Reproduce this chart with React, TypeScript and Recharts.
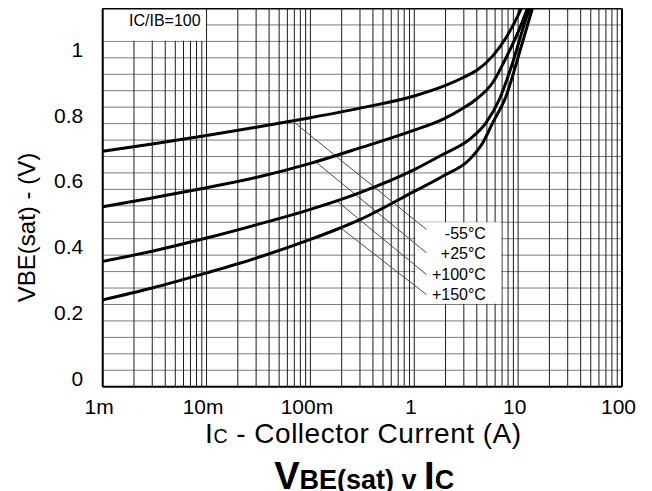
import React from 'react';
import { LineChart, Line, XAxis, YAxis, ReferenceLine, ReferenceArea } from 'recharts';

// ---- axis ticks ----
const xTicks = [0.001, 0.01, 0.1, 1, 10, 100];
const xTickLabels = ['1m', '10m', '100m', '1', '10', '100'];
const yTicks = [0, 0.2, 0.4, 0.6, 0.8, 1];
const yTickLabels = ['0', '0.2', '0.4', '0.6', '0.8', '1'];

// ---- grid values ----
const gridDecades = [0.001, 0.01, 0.1, 1, 10];
const gridMultipliers = [1, 2, 3, 4, 5, 6, 7, 8, 9];
const gridY = [0.05, 0.1, 0.15, 0.2, 0.25, 0.3, 0.35, 0.4, 0.45, 0.5, 0.55, 0.6, 0.65, 0.7, 0.75, 0.8, 0.85, 0.9, 0.95, 1.0, 1.05, 1.1];

// ---- series: collector current (A) and VBE(sat) (V) ----
const icM55 = [0.001, 0.003, 0.01, 0.03, 0.1, 0.3, 1, 2, 3, 4, 5.7, 7.67, 10.3, 11.2];
const vbeM55 = [0.716, 0.738, 0.764, 0.789, 0.818, 0.847, 0.884, 0.916, 0.941, 0.962, 1.006, 1.062, 1.138, 1.165];

const icP25 = [0.001, 0.003, 0.01, 0.03, 0.1, 0.3, 1, 1.88, 3, 3.95, 5.7, 7.67, 10.3, 12.6];
const vbeP25 = [0.547, 0.574, 0.605, 0.636, 0.679, 0.726, 0.78, 0.813, 0.848, 0.874, 0.925, 1.001, 1.088, 1.16];

const icP100 = [0.001, 0.003, 0.01, 0.03, 0.1, 0.3, 1, 1.88, 3.4, 4.92, 6.6, 8.87, 11.9, 13.3];
const vbeP100 = [0.381, 0.412, 0.452, 0.492, 0.539, 0.59, 0.66, 0.706, 0.752, 0.803, 0.874, 0.986, 1.118, 1.16];

const icP150 = [0.001, 0.003, 0.01, 0.03, 0.1, 0.178, 0.3, 1, 1.88, 3.4, 4.57, 5.7, 7.67, 10.3, 14];
const vbeP150 = [0.264, 0.3, 0.346, 0.391, 0.448, 0.478, 0.508, 0.594, 0.64, 0.691, 0.742, 0.803, 0.884, 1.016, 1.16];

// ---- legend leaders (start on curve -> end at label) ----
const leaderNames = ['-55°C', '+25°C', '+100°C', '+150°C'];
const leaderStartIc = [0.068, 0.112, 0.184, 0.199];
const leaderStartV = [0.807, 0.684, 0.562, 0.481];
const leaderEndIc = [1.31, 1.31, 1.31, 1.31];
const leaderEndV = [0.478, 0.407, 0.341, 0.28];

const FONT = '"Liberation Sans", Arial, Helvetica, sans-serif';

const toPts = (xs: number[], ys: number[]) => xs.map((x, i) => ({ x, y: ys[i] }));
const series = [
  toPts(icM55, vbeM55),
  toPts(icP25, vbeP25),
  toPts(icP100, vbeP100),
  toPts(icP150, vbeP150),
];
const leaders = leaderNames.map((_, i) => [
  { x: leaderStartIc[i], y: leaderStartV[i] },
  { x: leaderEndIc[i], y: leaderEndV[i] },
]);
const gridX: number[] = [];
gridDecades.forEach((d) => gridMultipliers.forEach((m) => gridX.push(+(d * m).toPrecision(3))));

const XTick = (props: any) => {
  const { x, y, payload } = props;
  const i = xTicks.indexOf(payload.value);
  return (
    <text x={x - 3.5} y={y + 26.8} textAnchor="middle" fontSize={21} fill="#000" fontFamily={FONT}>
      {xTickLabels[i]}
    </text>
  );
};

const YTick = (props: any) => {
  const { x, y, payload } = props;
  const i = yTicks.indexOf(payload.value);
  return (
    <text x={x - 19.5} y={y - 1} textAnchor="end" fontSize={21} fill="#000" fontFamily={FONT}>
      {yTickLabels[i]}
    </text>
  );
};

const XTitle = (props: any) => {
  const vb = props.viewBox || { x: 0, y: 0, width: 0 };
  const cx = vb.x + vb.width / 2;
  return (
    <g fontFamily={FONT} fill="#000">
      <text x={cx + 1} y={vb.y + 56.6} textAnchor="middle" fontSize={28} letterSpacing={0.5}>
        <tspan>I</tspan>
        <tspan fontSize={19.5}>C</tspan>
        <tspan> - Collector Current (A)</tspan>
      </text>
      <text x={cx + 1.8} y={vb.y + 102.3} textAnchor="middle" fontWeight="bold" fontSize={27}>
        <tspan fontSize={38}>V</tspan>
        <tspan fontSize={27}>BE(sat) v </tspan>
        <tspan fontSize={38}>I</tspan>
        <tspan fontSize={27}>C</tspan>
      </text>
    </g>
  );
};

const YTitle = (props: any) => {
  const vb = props.viewBox || { x: 0, y: 0 };
  const cx = vb.x + 3.3;
  const cy = vb.y + 219;
  return (
    <text
      x={cx}
      y={cy}
      transform={`rotate(-90 ${cx} ${cy})`}
      textAnchor="middle"
      dominantBaseline="central"
      fontSize={24}
      fill="#000"
      fontFamily={FONT}
    >
      VBE(sat) - (V)
    </text>
  );
};

const RatioLabel = (props: any) => {
  const vb = props.viewBox || { x: 0, y: 0, width: 0 };
  return (
    <text x={vb.x + vb.width - 5} y={vb.y + 17.2} textAnchor="end" fontSize={16} fill="#000" fontFamily={FONT}>
      IC/IB=100
    </text>
  );
};

const TempLabels = (props: any) => {
  const vb = props.viewBox || { x: 0, y: 0, width: 0 };
  const offs = [16.8, 37.1, 57.3, 77.6];
  return (
    <g fontFamily={FONT} fontSize={16} fill="#000">
      {leaderNames.map((n, i) => (
        <text key={n} x={vb.x + vb.width - 15.5} y={vb.y + offs[i]} textAnchor="end">
          {n}
        </text>
      ))}
    </g>
  );
};

export default function App() {
  return (
    <LineChart
      width={644}
      height={483}
      margin={{ top: 0.5, right: 30, left: 14.7, bottom: 74.3 }}
      style={{ fontFamily: FONT }}
    >
      <XAxis
        dataKey="x"
        type="number"
        scale="log"
        domain={[0.001, 100]}
        allowDataOverflow
        ticks={xTicks}
        tick={<XTick />}
        tickLine={false}
        tickSize={0}
        tickMargin={0}
        axisLine={{ stroke: '#000', strokeWidth: 2 }}
        height={30}
        interval={0}
        label={(p: any) => <XTitle {...p} />}
      />
      <YAxis
        type="number"
        domain={[0, 1.15]}
        allowDataOverflow
        ticks={yTicks}
        tick={<YTick />}
        tickLine={false}
        tickSize={0}
        tickMargin={0}
        axisLine={{ stroke: '#000', strokeWidth: 2 }}
        width={80}
        interval={0}
        label={(p: any) => <YTitle {...p} />}
      />
      {gridY.map((v) => (
        <ReferenceLine key={'h' + v} y={v} stroke="#7a7a7a" strokeWidth={1} zIndex={-100} />
      ))}
      {gridX.map((v) => (
        <ReferenceLine key={'v' + v} x={v} stroke="#1c1c1c" strokeWidth={1} zIndex={-100} />
      ))}
      <ReferenceArea
        x1={0.001}
        x2={0.0098}
        y1={1.052}
        y2={1.15}
        fill="#fff"
        fillOpacity={1}
        stroke="none"
        zIndex={-90}
        label={(p: any) => <RatioLabel {...p} />}
      />
      <ReferenceArea
        x1={1.025}
        x2={6.9}
        y1={0.252}
        y2={0.5}
        fill="#fff"
        fillOpacity={1}
        stroke="none"
        zIndex={-90}
        label={(p: any) => <TempLabels {...p} />}
      />
      {leaders.map((d, i) => (
        <Line
          key={'l' + i}
          data={d}
          dataKey="y"
          type="linear"
          stroke="#4a4a4a"
          strokeWidth={1}
          dot={false}
          activeDot={false}
          isAnimationActive={false}
        />
      ))}
      {series.map((d, i) => (
        <Line
          key={'s' + i}
          data={d}
          dataKey="y"
          type="monotone"
          stroke="#000"
          strokeWidth={3}
          dot={false}
          activeDot={false}
          isAnimationActive={false}
        />
      ))}
      <ReferenceLine y={1.15} stroke="#000" strokeWidth={2} zIndex={600} />
      <ReferenceLine x={100} stroke="#000" strokeWidth={2} zIndex={600} />
    </LineChart>
  );
}
